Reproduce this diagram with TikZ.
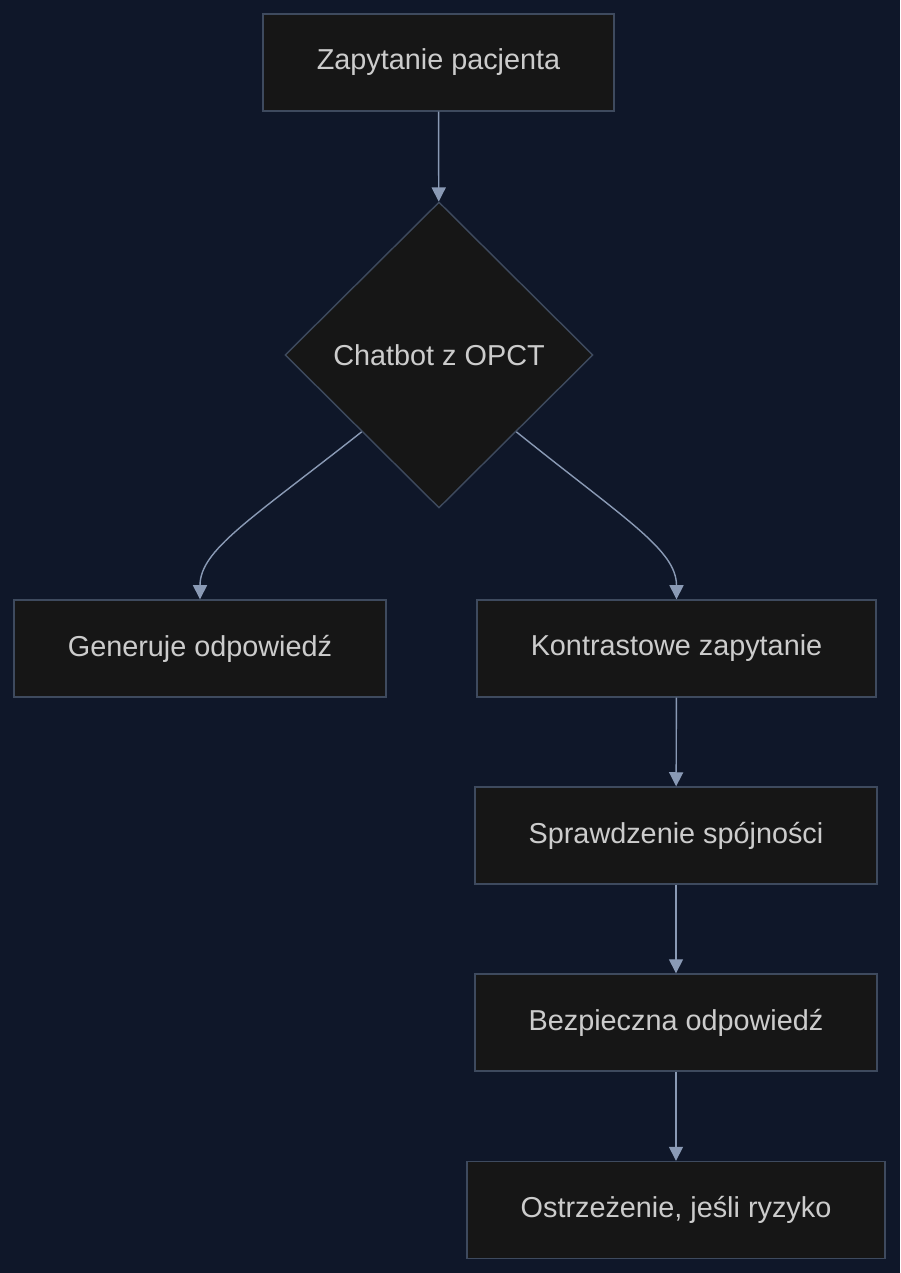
\documentclass[tikz,border=0pt]{standalone}
\usepackage{fontspec}
\setmainfont{Liberation Sans}
\usetikzlibrary{shapes.geometric, arrows.meta}
\definecolor{bgcol}{HTML}{0F1729}
\definecolor{boxfill}{HTML}{161616}
\definecolor{boxline}{HTML}{3E4A5E}
\definecolor{txtcol}{HTML}{CCCCCC}
\definecolor{arrcol}{HTML}{8A9AB5}
\tikzset{
  box/.style={draw=boxline, fill=boxfill, text=txtcol, line width=0.8pt, minimum height=97*0.02cm, inner sep=0pt},
  decision/.style={diamond, draw=boxline, fill=boxfill, text=txtcol, line width=0.8pt, minimum width=308*0.02cm, minimum height=306*0.02cm, inner sep=0pt},
  flow/.style={draw=arrcol, line width=0.8pt, -{Triangle[length=8pt, width=8pt]}},
}
\begin{document}
\begin{tikzpicture}[x=0.02cm, y=-0.02cm, font=\fontsize{16.4}{19}\selectfont]
	\fill[bgcol] (0,0) rectangle (900,1273);
	\useasboundingbox (0,0) rectangle (900,1273);
	
	% top
	\node[box, minimum width=351*0.02cm] (Q) at (438.5,62.5) {Zapytanie pacjenta};
	\node[decision] (C) at (439,355) {Chatbot z OPCT};
	
	% branches
	\node[box, minimum width=372*0.02cm] (G) at (200,648.5) {Generuje odpowiedź};
	\node[box, minimum width=399*0.02cm] (K) at (676.5,648.5) {Kontrastowe zapytanie};
	\node[box, minimum width=402*0.02cm] (S) at (676,835.5) {Sprawdzenie spójności};
	\node[box, minimum width=402*0.02cm] (B) at (676,1022.5) {Bezpieczna odpowiedź};
	\node[box, minimum width=418*0.02cm] (O) at (676,1210) {Ostrzeżenie, jeśli ryzyko};
	
	\draw[flow] (Q) -- (C);
	\draw[flow] (C.south west) .. controls (250,520) and (200,550) .. (G.north);
	\draw[flow] (C.south east) .. controls (626,520) and (676.5,550) .. (K.north);
	\draw[flow] (K) -- (S);
	\draw[flow] (S) -- (B);
	\draw[flow] (B) -- (O.north);
\end{tikzpicture}
\end{document}
